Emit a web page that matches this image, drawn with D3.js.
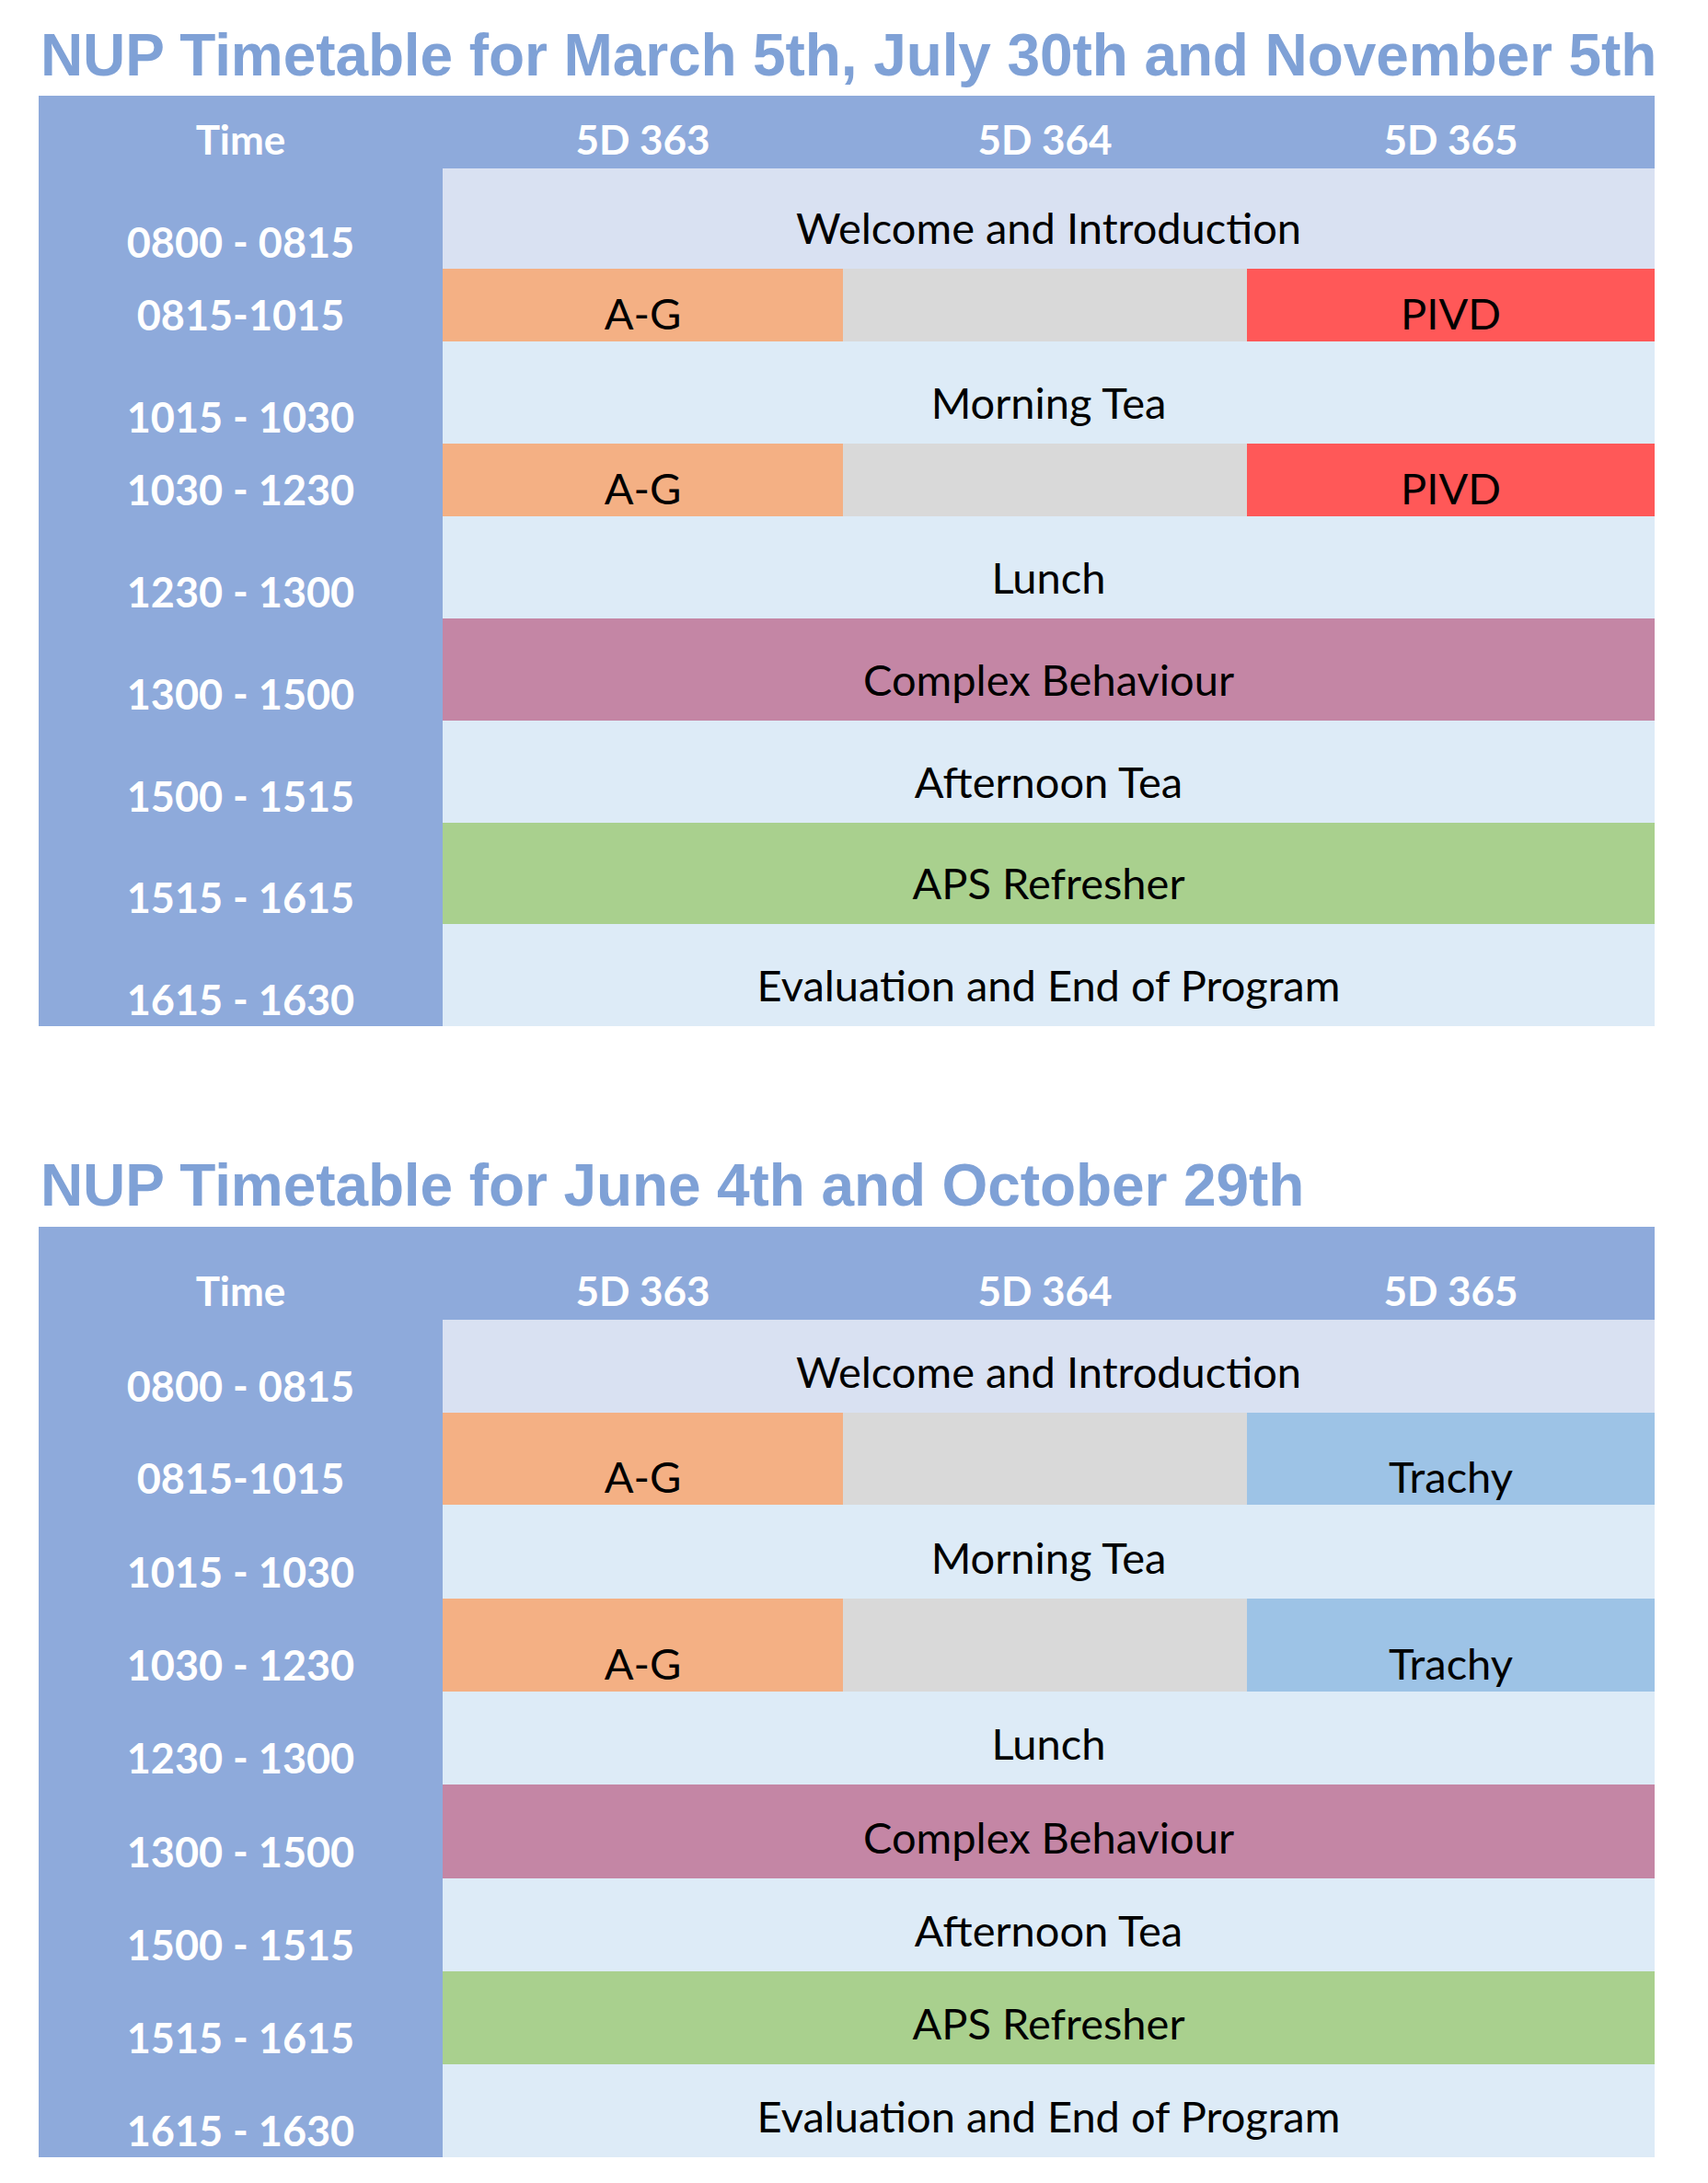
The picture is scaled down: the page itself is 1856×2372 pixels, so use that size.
<!DOCTYPE html>
<html>
<head>
<meta charset="utf-8">
<script src="https://cdn.jsdelivr.net/npm/d3@7"></script>
<style>
  body { margin: 0; background: #ffffff; }
</style>
</head>
<body>
<div class="timetable-div"></div>
<script>
// data
var titles = ["NUP Timetable for March 5th, July 30th and November 5th",
              "NUP Timetable for June 4th and October 29th"];
var columns = ["Time", "5D 363", "5D 364", "5D 365"];
var timeSlots = ["0800 - 0815", "0815-1015", "1015 - 1030", "1030 - 1230", "1230 - 1300",
                 "1300 - 1500", "1500 - 1515", "1515 - 1615", "1615 - 1630"];
// one entry = session across all rooms, three entries = one per room
var sessionsA = [["Welcome and Introduction"], ["A-G", "", "PIVD"], ["Morning Tea"],
                 ["A-G", "", "PIVD"], ["Lunch"], ["Complex Behaviour"], ["Afternoon Tea"],
                 ["APS Refresher"], ["Evaluation and End of Program"]];
var sessionsB = [["Welcome and Introduction"], ["A-G", "", "Trachy"], ["Morning Tea"],
                 ["A-G", "", "Trachy"], ["Lunch"], ["Complex Behaviour"], ["Afternoon Tea"],
                 ["APS Refresher"], ["Evaluation and End of Program"]];

var width = 1856, height = 2372;
var tableLeft = 42;
var colWidths = [439, 435, 439, 443];

var fills = {
  "Welcome and Introduction": "#d9e1f2",
  "Morning Tea": "#ddebf7",
  "Lunch": "#ddebf7",
  "Afternoon Tea": "#ddebf7",
  "Evaluation and End of Program": "#ddebf7",
  "A-G": "#f4b084",
  "": "#d9d9d9",
  "PIVD": "#ff5858",
  "Trachy": "#9dc3e6",
  "Complex Behaviour": "#c486a5",
  "APS Refresher": "#a9d08e"
};
var headerFill = "#8eaadb";
var titleColor = "#7fa1d6";
var cellFont = "Lato, 'Open Sans', sans-serif";

// layout of the two tables (row heights in px)
var layouts = [
  {titleY: 82, top: 104, headerH: 79, rows: [109, 79, 111, 79, 111, 111, 111, 110, 111]},
  {titleY: 1310, top: 1333, headerH: 101, rows: [101, 100, 102, 101, 101, 102, 101, 101, 101]}
];

var svg = d3.select(".timetable-div")
  .append("svg")
    .attr("width", width)
    .attr("height", height);

//column edges
var colEdges = [tableLeft];
colWidths.forEach(function(w) { colEdges.push(colEdges[colEdges.length - 1] + w); });
var tableRight = colEdges[colEdges.length - 1];
var x0 = d3.scaleOrdinal().domain(columns).range(colEdges.slice(0, -1));
var x1 = d3.scaleOrdinal().domain(columns).range(colEdges.slice(1));

drawTable(titles[0], sessionsA, layouts[0]);
drawTable(titles[1], sessionsB, layouts[1]);

function drawTable(title, sessions, layout) {
  var g = svg.append("g");

  // row edges from the row heights
  var edges = [layout.top + layout.headerH];
  layout.rows.forEach(function(h) { edges.push(edges[edges.length - 1] + h); });
  var yTop = d3.scaleOrdinal().domain(timeSlots).range(edges.slice(0, -1));
  var yBot = d3.scaleOrdinal().domain(timeSlots).range(edges.slice(1));

  //title
  g.append("text")
    .attr("x", tableLeft + 2)
    .attr("y", layout.titleY)
    .attr("font-family", "'Liberation Sans', Arial, sans-serif")
    .attr("font-weight", "bold")
    .attr("font-size", "64px")
    .attr("letter-spacing", "-0.1px")
    .attr("fill", titleColor)
    .text(title);

  //header band + time column
  g.append("rect")
    .attr("x", tableLeft)
    .attr("y", layout.top)
    .attr("width", tableRight - tableLeft)
    .attr("height", layout.headerH)
    .attr("fill", headerFill);
  g.append("rect")
    .attr("x", x0("Time"))
    .attr("y", layout.top)
    .attr("width", x1("Time") - x0("Time"))
    .attr("height", edges[edges.length - 1] - layout.top)
    .attr("fill", headerFill);

  g.selectAll(".head")
    .data(columns)
    .enter().append("text")
      .attr("class", "head")
      .attr("x", function(d) { return (x0(d) + x1(d)) / 2; })
      .attr("y", layout.top + layout.headerH - 15)
      .attr("text-anchor", "middle")
      .attr("font-family", cellFont)
      .attr("font-weight", "bold")
      .attr("font-size", "44px")
      .attr("fill", "#ffffff")
      .text(function(d) { return d; });

  //time labels
  g.selectAll(".slot")
    .data(timeSlots)
    .enter().append("text")
      .attr("class", "slot")
      .attr("x", (x0("Time") + x1("Time")) / 2)
      .attr("y", function(d) { return yBot(d) - 12; })
      .attr("text-anchor", "middle")
      .attr("font-family", cellFont)
      .attr("font-weight", "bold")
      .attr("font-size", "45px")
      .attr("fill", "#ffffff")
      .text(function(d) { return d; });

  //session cells
  var cells = [];
  sessions.forEach(function(s, i) {
    var slot = timeSlots[i];
    if (s.length === 1) {
      cells.push({slot: slot, label: s[0], left: x0(columns[1]), right: x1(columns[3]), merged: true});
    } else {
      s.forEach(function(label, j) {
        cells.push({slot: slot, label: label, left: x0(columns[j + 1]), right: x1(columns[j + 1]), merged: false});
      });
    }
  });

  g.selectAll(".cell")
    .data(cells)
    .enter().append("rect")
      .attr("class", "cell")
      .attr("x", function(d) { return d.left; })
      .attr("y", function(d) { return yTop(d.slot); })
      .attr("width", function(d) { return d.right - d.left; })
      .attr("height", function(d) { return yBot(d.slot) - yTop(d.slot); })
      .attr("fill", function(d) { return fills[d.label]; });

  g.selectAll(".cell-label")
    .data(cells.filter(function(d) { return d.label !== ""; }))
    .enter().append("text")
      .attr("class", "cell-label")
      .attr("x", function(d) { return (d.left + d.right) / 2; })
      .attr("y", function(d) { return yBot(d.slot) - (d.merged ? 27 : 13); })
      .attr("text-anchor", "middle")
      .attr("font-family", cellFont)
      .attr("font-size", "47px")
      .attr("fill", "#000000")
      .text(function(d) { return d.label; });
}
</script>
</body>
</html>
